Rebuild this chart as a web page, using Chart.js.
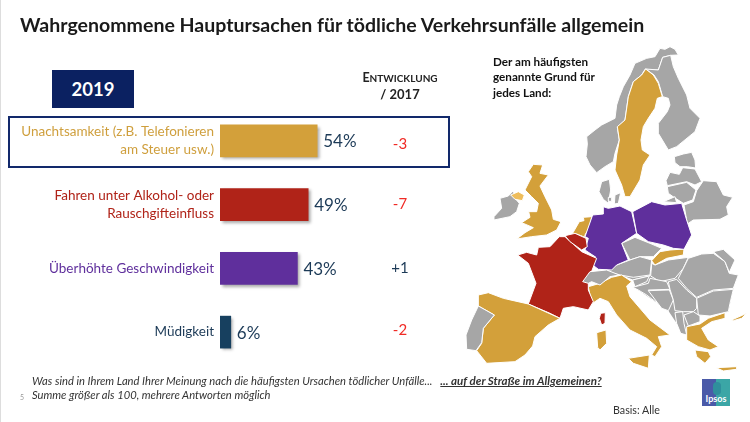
<!DOCTYPE html>
<html lang="de">
<head>
<meta charset="utf-8">
<title>Wahrgenommene Hauptursachen</title>
<script src="https://cdn.jsdelivr.net/npm/chart.js@4"></script>
<style>
html,body{margin:0;padding:0;background:#fff}
#page{position:relative;width:750px;height:422px;overflow:hidden;font-family:Lato,"Open Sans",sans-serif;background:#fff}
#page div{position:absolute;white-space:nowrap}
canvas{position:absolute;left:0;top:0}
svg{position:absolute;left:0;top:0}
</style>
</head>
<body>
<div id="page">
<svg width="750" height="422" viewBox="0 0 750 422">
<g stroke="#fff" stroke-width="3" stroke-linejoin="round">
<!-- Scandinavia -->
<g transform="translate(580,40) scale(0.3333)">
<polygon fill="#a6a6a6" points="295,45 285,28 270,20 255,28 240,25 225,50 200,55 165,70 150,105 130,140 118,170 110,195 105,235 65,255 45,270 20,290 22,312 18,350 30,375 50,398 75,380 100,365 105,340 118,300 112,262 135,240 145,170 160,125 185,105 195,88 235,90 248,52 272,46"/>
<polygon fill="#a6a6a6" points="248,52 272,46 280,80 295,115 320,165 330,205 360,235 345,275 290,320 265,330 235,280 235,250 262,215 270,195 265,175 248,170 235,125 222,105 197,87 235,90"/>
<polygon fill="#d3a03a" points="197,87 220,105 235,130 247,170 232,175 225,205 205,235 190,260 183,300 187,330 210,345 190,375 180,420 150,470 135,470 125,435 105,390 110,345 118,300 112,260 135,240 145,170 160,125 185,105"/>
</g>
<!-- Baltic, Belarus, Denmark -->
<g transform="translate(580,140) scale(0.3333)" fill="#a6a6a6">
<polygon points="283,50 310,42 335,37 345,60 347,84 322,80 300,80 285,68"/>
<polygon points="258,122 270,97 298,103 308,83 345,87 365,125 345,135 320,125 262,137"/>
<polygon points="262,140 320,127 348,150 338,180 310,190 282,172 265,160"/>
<polygon points="250,185 285,170 290,188"/>
<polygon points="350,152 370,122 410,125 430,165 458,172 440,200 445,225 420,238 340,240 322,252 312,195 340,185"/>
<polygon points="88,118 92,150 85,190 70,178 57,155 65,125"/>
<polygon points="105,165 122,158 115,190 103,192"/>
<polygon points="85,172 95,172 95,184 85,184"/>
</g>
<!-- British Isles, Benelux -->
<g transform="translate(490,160) scale(0.3333)">
<polygon fill="#a6a6a6" points="30,115 55,108 70,92 75,115 88,130 80,155 60,170 12,180 12,170 35,145"/>
<polygon fill="#d3a03a" points="130,13 158,15 150,40 175,45 150,78 165,110 185,150 190,178 213,185 200,210 170,225 125,230 80,237 105,218 130,203 95,188 120,172 116,155 140,155 145,130 125,110 105,90 125,50 115,35"/>
<polygon fill="#eebd5c" points="62,105 85,95 103,105 97,122 75,118"/>
<polygon fill="#d3a03a" points="245,225 268,185 282,182 280,172 305,170 300,200 285,225 285,232 260,222"/>
</g>
<!-- Base of the Balkans, then countries -->
<g transform="translate(620,240) scale(0.3333)" fill="#a6a6a6">
<polygon stroke="none" points="38,120 90,100 205,55 340,145 325,215 235,225 200,285 170,250 145,212 55,150"/>
<polygon points="0,95 30,65 70,50 95,62 90,100 88,108 38,120 0,105"/>
<polygon points="95,70 105,75 145,60 205,52 190,85 165,115 120,125 92,108"/>
<polygon points="38,120 88,108 80,125 45,140"/>
<polygon points="38,142 85,130 90,115 140,125 150,148 85,150 145,215 80,165 55,150"/>
<polygon points="85,152 148,150 160,180 145,212 125,205"/>
<polygon points="145,125 170,118 200,150 230,175 230,205 220,215 190,215 165,212 160,180 150,148"/>
<polygon points="175,115 205,55 245,42 280,40 315,65 328,100 355,105 340,145 280,150 230,172 200,145"/>
<polygon points="280,35 310,28 345,60 328,97 315,65"/>
<polygon points="230,175 280,153 340,148 330,190 325,215 270,228 235,225"/>
<polygon points="192,225 220,215 240,228 240,245 205,258"/>
<polygon points="165,218 188,215 192,250 200,285 182,280 170,250"/>
<g fill="#d3a03a">
<polygon points="95,62 120,35 150,30 192,27 190,45 140,55 105,75"/>
<polygon points="200,260 240,252 265,235 315,218 315,235 275,245 245,265 265,300 295,320 270,330 235,320 200,300"/>
<polygon points="225,330 265,335 272,350 255,370 230,350"/>
<polygon points="288,383 350,380 350,388 310,393"/>
<polygon points="335,240 380,220 365,235 340,242"/>
<polygon points="25,355 88,345 85,385 40,370"/>
</g>
</g>
<!-- Central Europe, Italy -->
<g transform="translate(460,200) scale(0.3333)">
<polygon fill="#a6a6a6" points="485,130 525,112 570,130 605,145 580,170 540,170 510,180"/>
<polygon fill="#a6a6a6" points="440,215 470,195 510,180 540,170 575,180 570,225 520,232 480,225"/>
<polygon fill="#5f2f9c" points="430,20 445,25 480,18 515,35 530,100 485,130 505,180 470,195 455,210 415,208 385,185 408,172 375,150 385,115 375,110 398,45 430,42"/>
<polygon fill="#5f2f9c" points="518,35 575,5 615,15 665,10 680,60 695,105 672,148 640,145 610,135 565,125 530,100"/>
<polygon fill="#d3a03a" points="385,260 420,250 455,232 485,225 515,245 500,258 510,290 570,360 630,405 595,410 605,440 585,470 575,465 590,440 560,415 510,390 470,345 445,305 420,295 395,312"/>
<polygon fill="#b02318" points="298,110 315,110 365,155 410,175 385,240 385,270 400,305 385,330 340,320 310,325 300,355 270,340 205,312 228,250 205,190 173,165 200,157 230,165 235,142 270,140"/>
<polygon fill="#b02318" points="315,107 345,100 378,115 382,140 365,150 330,125"/>
</g>
<!-- Iberia, islands, Switzerland -->
<g transform="translate(460,260) scale(0.3333)">
<polygon fill="#d3a03a" points="55,105 85,98 130,115 205,132 300,175 265,195 225,230 218,258 195,285 165,305 80,310 50,272 65,250 70,205 103,165 55,138"/>
<polygon fill="#a6a6a6" points="55,138 103,165 70,205 65,248 48,272 20,268 18,225 35,180"/>
<polygon fill="#b02318" points="422,160 436,158 435,190 425,195 418,175"/>
<polygon fill="#d3a03a" points="410,218 438,210 440,250 420,270 413,262"/>
<polygon fill="#a6a6a6" points="368,65 390,35 440,30 478,45 450,50 420,75 395,65 385,70"/>
</g>
</g>
</svg>
<canvas id="c" width="750" height="422"></canvas>
<div style="left:0;top:0;width:1px;height:422px;background:#ddd"></div>
<div style="left:20px;top:13px;font-size:19.55px;font-weight:700;color:#1a1a1a">Wahrgenommene Hauptursachen für tödliche Verkehrsunfälle allgemein</div>
<div style="left:52px;top:70px;width:82px;height:38px;line-height:38px;background:#0b2161;color:#fff;font-size:18.5px;font-weight:700;text-align:center">2019</div>
<div style="left:8px;top:116px;width:438px;height:48px;border:2px solid #12296b"></div>
<div style="left:340px;top:70px;width:120px;text-align:center;font-weight:700;color:#222;font-size:10px;line-height:16px">
<span style="font-size:12.5px">E</span>NTWICKLUNG<br><span style="font-size:13px">/ 2017</span></div>
<div style="left:493px;top:54px;font-size:11.7px;font-weight:700;color:#111;line-height:15.3px">Der am häufigsten<br>genannte Grund für<br>jedes Land:</div>
<div style="left:32px;top:374px;font-size:11.2px;font-style:italic;color:#333;line-height:14px">Was sind in Ihrem Land Ihrer Meinung nach die häufigsten Ursachen tödlicher Unfälle...&nbsp;&nbsp; <b style="text-decoration:underline;font-size:11.55px">... auf der Straße im Allgemeinen?</b><br>Summe größer als 100, mehrere Antworten möglich</div>
<div style="left:20px;top:393px;font-size:7px;color:#999">5</div>
<div style="left:613px;top:403px;font-size:10.7px;color:#333">Basis: Alle</div>
<div style="left:702px;top:379px;width:28px;height:27px;background:linear-gradient(90deg,#4a5aa8 0,#4a5aa8 50%,#3ba6a6 50%,#3ba6a6 100%)"></div>
<div style="left:713px;top:382px;width:8px;height:13px;background:#2f8f9c;border-radius:4px"></div>
<div style="left:702px;top:393px;width:28px;text-align:center;font-size:9px;font-weight:700;color:#fff">Ipsos</div>
</div>
<script>
const categories = [
  ["Unachtsamkeit (z.B. Telefonieren", "am Steuer usw.)"],
  ["Fahren unter Alkohol- oder", "Rauschgifteinfluss"],
  "Überhöhte Geschwindigkeit",
  "Müdigkeit"
];
const values = [54, 49, 43, 6];
const changes = ["-3", "-7", "+1", "-2"];
const barColors = ["#d3a03a", "#b02318", "#5f2f9c", "#17405f"];
const labelColors = ["#cf9f3d", "#b02318", "#5f2f9c", "#1c3a57"];
const changeColors = ["#f02a25", "#f02a25", "#1c3a57", "#f02a25"];
const changeShift = [3, 0, 0, -2];

const overlay = {
  id: "overlay",
  beforeDatasetsDraw(chart) {
    const c = chart.ctx;
    c.save();
    c.shadowColor = "rgba(0,0,0,0.35)";
    c.shadowBlur = 3;
    c.shadowOffsetX = 2;
    c.shadowOffsetY = 2;
  },
  afterDatasetsDraw(chart) {
    const c = chart.ctx;
    c.restore();
    const x = chart.scales.x, y = chart.scales.y;
    c.save();
    c.textBaseline = "middle";
    values.forEach((v, i) => {
      const py = y.getPixelForValue(i);
      c.textAlign = "left";
      c.fillStyle = "#1c3a57";
      c.font = "17px Lato";
      c.fillText(v + "%", x.getPixelForValue(v) + 6, py + 1);
      c.textAlign = "center";
      c.fillStyle = changeColors[i];
      c.font = "15px Lato";
      c.fillText(changes[i], x.getPixelForValue(100), py + changeShift[i]);
    });
    c.restore();
  }
};

new Chart(document.getElementById("c"), {
  type: "bar",
  data: {
    labels: categories,
    datasets: [{ data: values, backgroundColor: barColors, barThickness: 32, borderWidth: 0 }]
  },
  options: {
    indexAxis: "y",
    responsive: false,
    animation: false,
    layout: { padding: { left: 0, right: 350, top: 109, bottom: 58 } },
    plugins: { legend: { display: false }, tooltip: { enabled: false } },
    scales: {
      x: { display: false, min: 0, max: 100 },
      y: {
        afterFit(s) { s.width = 220; },
        grid: { display: false, drawTicks: false },
        border: { display: false },
        ticks: {
          color: labelColors,
          padding: 6,
          font: { family: "Lato", size: 13.5, lineHeight: 1.3 },
          autoSkip: false
        }
      }
    }
  },
  plugins: [overlay]
});
</script>
</body>
</html>
